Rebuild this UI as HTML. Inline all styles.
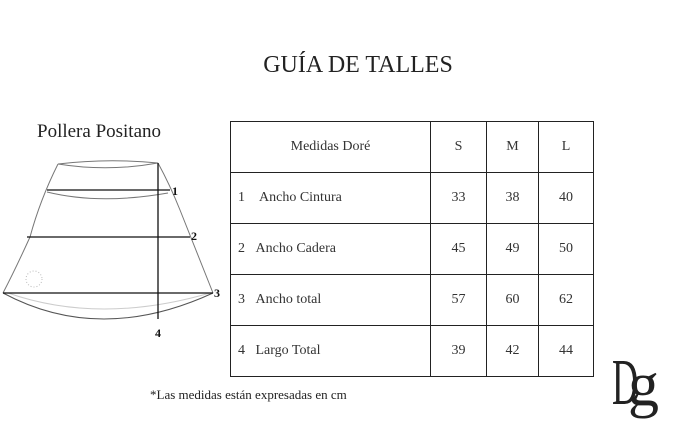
<!DOCTYPE html>
<html><head><style>
body{margin:0;width:688px;height:441px;background:#fff;position:relative;overflow:hidden;font-family:"Liberation Serif",serif;color:#222}
.t{position:absolute;white-space:nowrap}
table{position:absolute;left:230px;top:121px;border-collapse:collapse}
td{border:1.3px solid #222;height:50px;font-size:14px;padding:0;color:#333}
td.c{text-align:center}
</style></head><body>
<div class="t" style="left:0;width:716px;text-align:center;top:52px;font-size:24px">GUÍA DE TALLES</div>
<div class="t" style="left:37px;top:121px;font-size:19px">Pollera Positano</div>
<svg style="position:absolute;left:0;top:0" width="230" height="350">
<g fill="none" stroke="#777" stroke-width="1">
<path d="M58 164 Q108 158 158 163 Q108 172 58 164"/>
<path d="M58 164 Q40 200 30 237 Q15 270 3 293"/>
<path d="M158 163 Q170 185 180 210 Q198 255 213 293"/>
<path d="M47 192 Q100 205 168 193"/>
<path d="M3 293 Q100 345 213 293" stroke="#555"/>
<path d="M8 293 Q100 325 210 293" stroke="#ccc"/>
<circle cx="34" cy="279" r="8" stroke="#bbb" stroke-dasharray="1 2"/>
</g>
<g stroke="#111" stroke-width="1.3">
<line x1="47" y1="190" x2="170" y2="190"/>
<line x1="27" y1="237" x2="190" y2="237"/>
<line x1="3" y1="293" x2="213" y2="293"/>
<line x1="158" y1="163" x2="158" y2="319"/>
</g>
<g font-family="Liberation Serif" font-weight="bold" font-size="12" fill="#111">
<text x="172" y="195">1</text><text x="191" y="240">2</text><text x="214" y="297">3</text><text x="155" y="337">4</text>
</g>
</svg>
<table>
<tr><td class="c" style="width:199px">Medidas Doré</td><td class="c" style="width:55px">S</td><td class="c" style="width:51px">M</td><td class="c" style="width:54px">L</td></tr>
<tr><td>&nbsp;&nbsp;1&nbsp;&nbsp;&nbsp;&nbsp;Ancho Cintura</td><td class="c">33</td><td class="c">38</td><td class="c">40</td></tr>
<tr><td>&nbsp;&nbsp;2&nbsp;&nbsp;&nbsp;Ancho Cadera</td><td class="c">45</td><td class="c">49</td><td class="c">50</td></tr>
<tr><td>&nbsp;&nbsp;3&nbsp;&nbsp;&nbsp;Ancho total</td><td class="c">57</td><td class="c">60</td><td class="c">62</td></tr>
<tr><td>&nbsp;&nbsp;4&nbsp;&nbsp;&nbsp;Largo Total</td><td class="c">39</td><td class="c">42</td><td class="c">44</td></tr>
</table>
<div class="t" style="left:150px;top:387px;font-size:13px">*Las medidas están expresadas en cm</div>
<div class="t" style="left:612px;top:350px;font-size:66px;line-height:66px;transform:scaleX(0.55);transform-origin:left">D</div>
<div class="t" style="left:628px;top:352px;font-size:62px;line-height:66px">g</div>
</body></html>
